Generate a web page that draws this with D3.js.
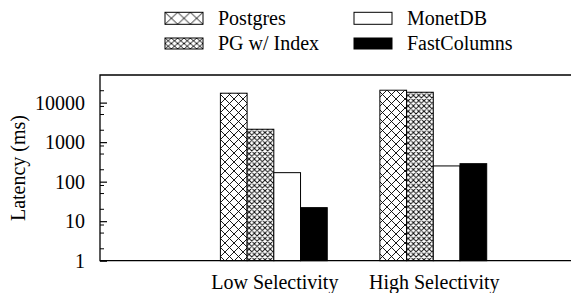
<!DOCTYPE html>
<html>
<head>
<meta charset="utf-8">
<script src="https://cdn.jsdelivr.net/npm/d3@7"></script>
<style>
  body { margin: 0; background: #fff; }
  svg text { font-family: 'Liberation Serif', 'DejaVu Serif', serif; fill: #000; }
</style>
</head>
<body>
<svg id="chart" width="571" height="293"></svg>
<script>
// data
const groups = ['Low Selectivity', 'High Selectivity'];
const seriesNames = ['Postgres', 'PG w/ Index', 'MonetDB', 'FastColumns'];
const postgres = [17300, 20600];
const pgIndex = [2120, 18300];
const monetdb = [169, 250];
const fastColumns = [22, 285];
const yTicks = [1, 10, 100, 1000, 10000];
const yMinor = [2, 5, 8, 20, 50, 80, 200, 500, 800, 2000, 5000, 8000, 20000];

const values = [postgres, pgIndex, monetdb, fastColumns];
const serif = "'Liberation Serif', 'DejaVu Serif', serif";

const svg = d3.select('#chart').attr('font-family', serif);
const defs = svg.append('defs');

const plotLeft = 100, plotRight = 580, plotTop = 75, plotBottom = 260.7;

// crosshatch pattern, w/h = diamond size
function hatch(id, w, h, x0, y0) {
  const p = defs.append('pattern')
    .attr('id', id)
    .attr('patternUnits', 'userSpaceOnUse')
    .attr('x', x0 || 0).attr('y', y0 || 0)
    .attr('width', w).attr('height', h);
  p.append('rect').attr('width', w).attr('height', h).attr('fill', '#fff');
  p.append('path')
    .attr('d', `M${-w},${-h}L${2 * w},${2 * h}M${-w},${2 * h}L${2 * w},${-h}` +
               `M0,${-h}L${2 * w},${h}M${-w},0L${w},${2 * h}` +
               `M0,${2 * h}L${2 * w},0M${-w},${h}L${w},${-h}`)
    .attr('stroke', '#000').attr('stroke-width', 0.9).attr('fill', 'none');
}
hatch('hatchBig', 9, 9);
hatch('hatchSmall', 5.3, 5.3);

const fills = ['url(#hatchBig)', 'url(#hatchSmall)', '#fff', '#000'];

const x = d3.scaleLinear().domain([-1.09, 1.92]).range([plotLeft, plotRight]);
const xInner = d3.scaleBand().domain(seriesNames).range([-0.335, 0.335]);
const y = d3.scaleLog().domain([1, 50000]).range([plotBottom, plotTop]);

svg.append('clipPath').attr('id', 'plotClip')
  .append('rect').attr('x', plotLeft - 2).attr('y', plotTop - 2)
  .attr('width', 571 - plotLeft + 2).attr('height', plotBottom - plotTop + 4);

// bars
const barLayer = svg.append('g');
groups.forEach((g, gi) => {
  seriesNames.forEach((s, si) => {
    const x0 = x(gi + xInner(s));
    const x1 = x(gi + xInner(s) + xInner.bandwidth());
    barLayer.append('rect')
      .attr('x', x0)
      .attr('y', y(values[si][gi]))
      .attr('width', x1 - x0)
      .attr('height', plotBottom - y(values[si][gi]))
      .attr('fill', fills[si])
      .attr('stroke', '#000')
      .attr('stroke-width', 1);
  });
});

// frame: left, top, bottom (right side runs off the page)
const frame = svg.append('g').attr('clip-path', 'url(#plotClip)');
frame.append('path')
  .attr('d', `M${plotRight},${plotTop}H${plotLeft}V${plotBottom}H${plotRight}`)
  .attr('fill', 'none').attr('stroke', '#000').attr('stroke-width', 1.3);

// y axis, ticks pointing inward
const yAxis = d3.axisLeft(y)
  .tickValues(yTicks)
  .tickFormat(d3.format('d'))
  .tickSize(-7)
  .tickPadding(15);
const ya = svg.append('g').attr('transform', `translate(${plotLeft},0)`).call(yAxis)
  .attr('font-family', serif).attr('font-size', 20);
ya.select('.domain').remove();
ya.selectAll('.tick line').attr('stroke', '#000').attr('stroke-width', 1.2);

svg.append('g').selectAll('line')
  .data(yMinor)
  .join('line')
  .attr('x1', plotLeft).attr('x2', plotLeft + 4)
  .attr('y1', d => y(d)).attr('y2', d => y(d))
  .attr('stroke', '#000').attr('stroke-width', 1);

// x labels
svg.append('g').selectAll('text')
  .data(groups)
  .join('text')
  .attr('x', (d, i) => x(i) + 1)
  .attr('y', 289)
  .attr('text-anchor', 'middle')
  .attr('font-size', 20)
  .text(d => d);

// y title
svg.append('text')
  .attr('transform', 'translate(25,168) rotate(-90)')
  .attr('text-anchor', 'middle')
  .attr('font-size', 20)
  .text('Latency (ms)');

// legend
const legendPos = [
  { bx: 165, by: 12.3, bh: 12, tx: 218 },
  { bx: 165, by: 38, bh: 11, tx: 218 },
  { bx: 354, by: 12.3, bh: 12, tx: 407 },
  { bx: 354, by: 38, bh: 11, tx: 407 }
];
hatch('legBig', 38 / 3, 12, 165, 12.3);
hatch('legSmall', 38 / 6, 11 / 2, 165, 38);
const legendFills = ['url(#legBig)', 'url(#legSmall)', '#fff', '#000'];

const legend = svg.append('g');
seriesNames.forEach((s, i) => {
  const p = legendPos[i];
  legend.append('rect')
    .attr('x', p.bx).attr('y', p.by)
    .attr('width', 38).attr('height', p.bh)
    .attr('fill', legendFills[i])
    .attr('stroke', '#000').attr('stroke-width', 1);
  legend.append('text')
    .attr('x', p.tx)
    .attr('y', p.by + p.bh / 2 + 6.5)
    .attr('font-size', 20)
    .text(s);
});
</script>
</body>
</html>
